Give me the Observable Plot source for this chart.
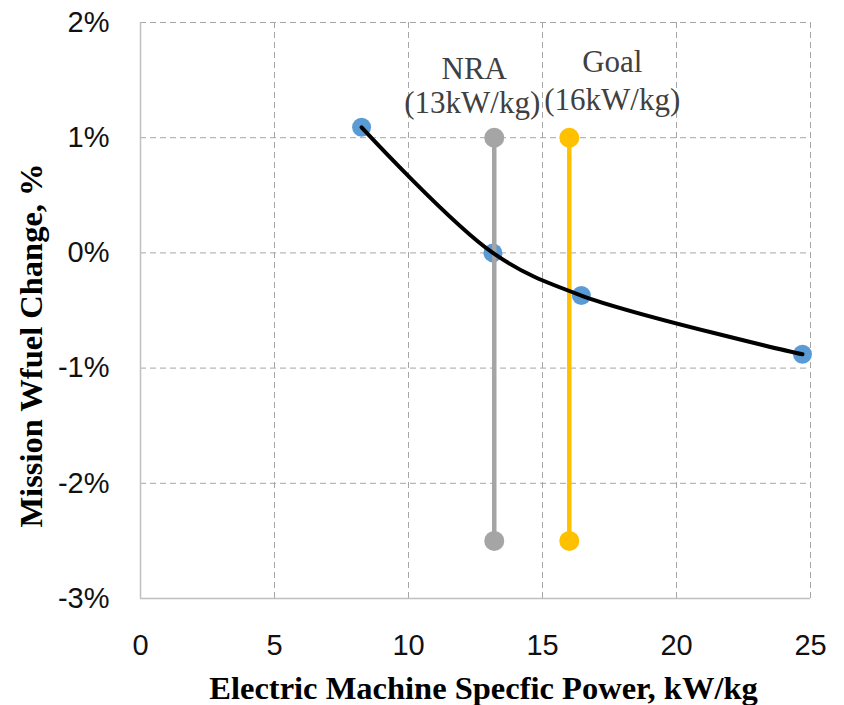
<!DOCTYPE html>
<html>
<head>
<meta charset="utf-8">
<script src="https://cdn.jsdelivr.net/npm/d3@7"></script>
<script src="https://cdn.jsdelivr.net/npm/@observablehq/plot@0.6"></script>
<style>
  html, body { margin: 0; padding: 0; background: #fff; }
</style>
</head>
<body>
<div id="chart"></div>
<script>
// Data
const powerKWkg = [8.25, 13.15, 16.45, 24.7];
const wfuelChangePct = [1.09, 0.0, -0.37, -0.88];

const markerX = [13.2, 16.0];
const markerLabels = ["NRA", "Goal"];
const markerSubLabels = ["(13kW/kg)", "(16kW/kg)"];
const markerColors = ["#A5A5A5", "#FFC000"];
const markerYRange = [-2.5, 1.0];

const xTicks = [0, 5, 10, 15, 20, 25];
const yTicks = [-3, -2, -1, 0, 1, 2];

const curve = powerKWkg.map((x, i) => ({x, y: wfuelChangePct[i]}));
const vlines = markerX.map((x, i) => ({x, y1: markerYRange[0], y2: markerYRange[1], c: markerColors[i], label: markerLabels[i], sub: markerSubLabels[i]}));
const vdots = vlines.flatMap(d => [{x: d.x, y: d.y1, c: d.c}, {x: d.x, y: d.y2, c: d.c}]);

const serif = "'Liberation Serif', 'Times New Roman', serif";
const sans = "'Liberation Sans', Arial, sans-serif";
const labelStyle = {fontFamily: serif, fontSize: 31, fill: "#404040"};

const chart = Plot.plot({
  width: 844,
  height: 705,
  marginLeft: 140,
  marginRight: 34,
  marginTop: 22,
  marginBottom: 107,
  style: {fontFamily: sans, background: "#fff"},
  x: {domain: [0, 25], ticks: xTicks, label: null},
  y: {domain: [-3, 2], ticks: yTicks, label: null},
  marks: [
    // dashed grid
    Plot.ruleX(xTicks.filter(t => t > 0), {stroke: "#a6a6a6", strokeWidth: 1, strokeDasharray: "6,4"}),
    Plot.ruleY(yTicks.filter(t => t > -3), {stroke: "#a6a6a6", strokeWidth: 1, strokeDasharray: "6,4"}),
    // solid axis lines
    Plot.ruleX([0], {stroke: "#bfbfbf", strokeWidth: 1.5}),
    Plot.ruleY([-3], {stroke: "#bfbfbf", strokeWidth: 1.5}),
    // tick labels
    Plot.axisX({ticks: xTicks, tickSize: 0, tickPadding: 36, fontSize: 29, fill: "#111", label: null}),
    Plot.axisY({ticks: yTicks, tickSize: 0, tickPadding: 31, fontSize: 29, fill: "#111", tickFormat: d => d + "%", label: null}),
    // blue markers
    Plot.dot(curve, {x: "x", y: "y", r: 9.5, fill: "#5B9BD5"}),
    // vertical NRA / Goal lines
    Plot.ruleX(vlines, {x: "x", y1: "y1", y2: "y2", stroke: "c", strokeWidth: 4.5}),
    Plot.dot(vdots, {x: "x", y: "y", r: 10, fill: "c"}),
    // smoothed black line
    Plot.line(curve, {x: "x", y: "y", curve: "catmull-rom", stroke: "#000", strokeWidth: 4}),
    // labels
    Plot.text([vlines[0]], {x: "x", y: "y2", text: "label", dx: -20, dy: -69, ...labelStyle}),
    Plot.text([vlines[0]], {x: "x", y: "y2", text: "sub", dx: -22, dy: -35, ...labelStyle}),
    Plot.text([vlines[1]], {x: "x", y: "y2", text: "label", dx: 43, dy: -76, ...labelStyle}),
    Plot.text([vlines[1]], {x: "x", y: "y2", text: "sub", dx: 43, dy: -38, ...labelStyle}),
    // axis titles
    Plot.text(["Electric Machine Specfic Power, kW/kg"], {frameAnchor: "bottom", textAnchor: "middle", lineAnchor: "middle", dx: 8, dy: 90, fontFamily: serif, fontWeight: "bold", fontSize: 32.5, fill: "#000"}),
    Plot.text(["Mission Wfuel Change, %"], {frameAnchor: "left", textAnchor: "middle", lineAnchor: "middle", dx: -109, dy: 35, rotate: -90, fontFamily: serif, fontWeight: "bold", fontSize: 32.5, fill: "#000"})
  ]
});
document.getElementById("chart").appendChild(chart);
</script>
</body>
</html>
